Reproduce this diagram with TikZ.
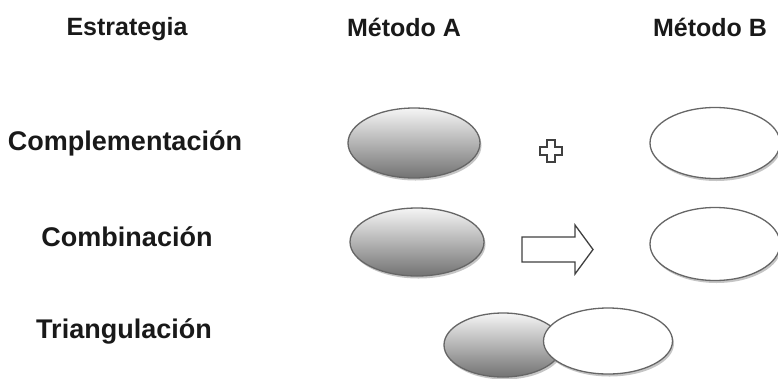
\documentclass[tikz,border=0pt]{standalone}
\usepackage{fontspec}
\setmainfont{Liberation Sans}
\usetikzlibrary{shapes.geometric,shadows}
\begin{document}
\begin{tikzpicture}[x=1pt,y=-1pt,
  hdr/.style={font=\fontsize{25}{28}\selectfont\bfseries, text=black!90, inner sep=0pt},
  lbl/.style={font=\fontsize{27}{30}\selectfont\bfseries, text=black!90, inner sep=0pt},
  oval/.style={ellipse, draw=black!60, line width=1.3pt, inner sep=0pt,
    drop shadow={shadow xshift=1.5pt, shadow yshift=-2.5pt, fill=black!45, opacity=0.5}},
  grayoval/.style={oval, top color=black!4, bottom color=black!55},
  whiteoval/.style={oval, fill=white},
  symb/.style={draw=black!75, line width=1.3pt, fill=white, line join=miter}
]
\useasboundingbox (0,0) rectangle (778,378);
% headers
\node[hdr] (hE) at (127,27) {\vphantom{É}Estrategia};
\node[hdr] (hA) at (404,27) {Método A};
\node[hdr] (hB) at (710,27) {Método B};
% row labels
\node[lbl] (r1) at (125,143) {Complementación};
\node[lbl] (r2) at (127,237) {Combinación};
\node[lbl] (r3) at (124,331) {Triangulación};
% row 1
\node[grayoval, minimum width=132pt, minimum height=70pt] (a1) at (414,143) {};
\node[whiteoval, minimum width=130pt, minimum height=71pt] (b1) at (715,143) {};
% plus
\draw[symb] (547,140) -- (555,140) -- (555,147) -- (562,147) -- (562,155) -- (555,155)
  -- (555,162) -- (547,162) -- (547,155) -- (540,155) -- (540,147) -- (547,147) -- cycle;
% row 2
\node[grayoval, minimum width=134pt, minimum height=68pt] (a2) at (417,242) {};
\node[whiteoval, minimum width=130pt, minimum height=73pt] (b2) at (715,244) {};
% arrow
\draw[symb] (522,237) -- (575,237) -- (575,225) -- (593,249.5) -- (575,274) -- (575,262)
  -- (522,262) -- cycle;
% row 3
\node[grayoval, minimum width=118pt, minimum height=64pt] (a3) at (503,345) {};
\node[whiteoval, minimum width=129pt, minimum height=66pt] (b3) at (608,341) {};
\end{tikzpicture}
\end{document}
